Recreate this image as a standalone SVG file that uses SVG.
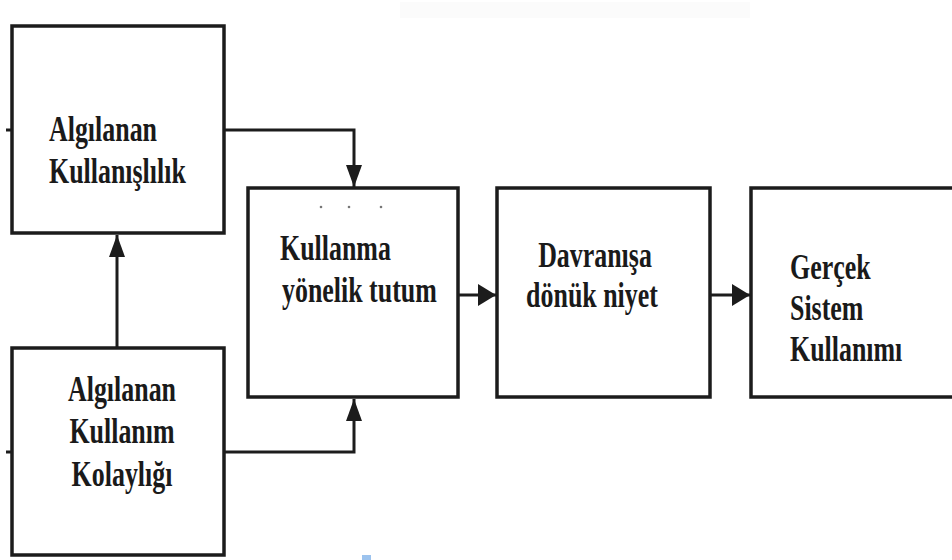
<svg xmlns="http://www.w3.org/2000/svg" width="952" height="560" viewBox="0 0 952 560">
  <defs>
    <style>
      .box { fill: #ffffff; stroke: #1c1c1c; stroke-width: 3.5; }
      .wire { fill: none; stroke: #1c1c1c; stroke-width: 3; }
      .lbl { font-family: "Liberation Serif", "Times New Roman", serif; font-weight: bold; font-size: 36px; fill: #1a1a1a; }
      .dot { fill: #777777; }
    </style>
    <!-- horizontal flow arrowhead -->
    <marker id="head" markerUnits="userSpaceOnUse" markerWidth="18" markerHeight="22" refX="18" refY="11" orient="auto">
      <path d="M0,0 L18,11 L0,22 z" fill="#1c1c1c"/>
    </marker>
    <!-- arrowhead for the vertical feeds -->
    <marker id="headv" markerUnits="userSpaceOnUse" markerWidth="22" markerHeight="16" refX="22" refY="8" orient="auto">
      <path d="M0,0 L22,8 L0,16 z" fill="#1c1c1c"/>
    </marker>
  </defs>

  <rect width="952" height="560" fill="#ffffff"/>
  <!-- faint band along the top edge -->
  <rect x="400" y="2" width="350" height="16" fill="#fbfbfb"/>

  <g id="connectors">
    <path class="wire" d="M224,130 H354 V187" marker-end="url(#headv)"/>
    <path class="wire" d="M224,452 H354 V399" marker-end="url(#headv)"/>
    <path class="wire" d="M117,348 V235" marker-end="url(#headv)"/>
    <path class="wire" d="M458,295 H496" marker-end="url(#head)"/>
    <path class="wire" d="M710,295 H750" marker-end="url(#head)"/>
    <!-- short stubs on the left edges -->
    <path class="wire" d="M6,130 H12 M6,452 H12"/>
  </g>

  <g id="algilanan-kullanislilik">
    <rect class="box" x="12" y="26" width="212" height="207"/>
    <text class="lbl" transform="translate(49,141) scale(0.72,1)">Algılanan</text>
    <text class="lbl" transform="translate(49,183) scale(0.72,1)">Kullanışlılık</text>
  </g>

  <g id="algilanan-kullanim-kolayligi">
    <rect class="box" x="12" y="348" width="212" height="207"/>
    <text class="lbl" text-anchor="middle" transform="translate(122,401) scale(0.72,1)">Algılanan</text>
    <text class="lbl" text-anchor="middle" transform="translate(122,443) scale(0.72,1)">Kullanım</text>
    <text class="lbl" text-anchor="middle" transform="translate(122,486) scale(0.72,1)">Kolaylığı</text>
  </g>

  <g id="kullanma-tutum">
    <rect class="box" x="248" y="188" width="210" height="209"/>
    <circle class="dot" cx="321" cy="207" r="1.3"/>
    <circle class="dot" cx="349" cy="207" r="1.3"/>
    <circle class="dot" cx="381" cy="207" r="1.3"/>
    <text class="lbl" transform="translate(280,260) scale(0.72,1)">Kullanma</text>
    <text class="lbl" transform="translate(282,302) scale(0.72,1)">yönelik tutum</text>
  </g>

  <g id="davranisa-donuk-niyet">
    <rect class="box" x="497" y="188" width="213" height="209"/>
    <text class="lbl" text-anchor="middle" transform="translate(595,267) scale(0.72,1)">Davranışa</text>
    <text class="lbl" text-anchor="middle" transform="translate(592,307) scale(0.72,1)">dönük niyet</text>
  </g>

  <g id="gercek-sistem-kullanimi">
    <rect class="box" x="751" y="188" width="215" height="209"/>
    <text class="lbl" transform="translate(790,279) scale(0.72,1)">Gerçek</text>
    <text class="lbl" transform="translate(790,320) scale(0.72,1)">Sistem</text>
    <text class="lbl" transform="translate(790,361) scale(0.72,1)">Kullanımı</text>
  </g>

  <!-- small blue mark at the lower edge -->
  <rect x="362" y="555" width="9" height="5" fill="#9cc3ee"/>
</svg>
